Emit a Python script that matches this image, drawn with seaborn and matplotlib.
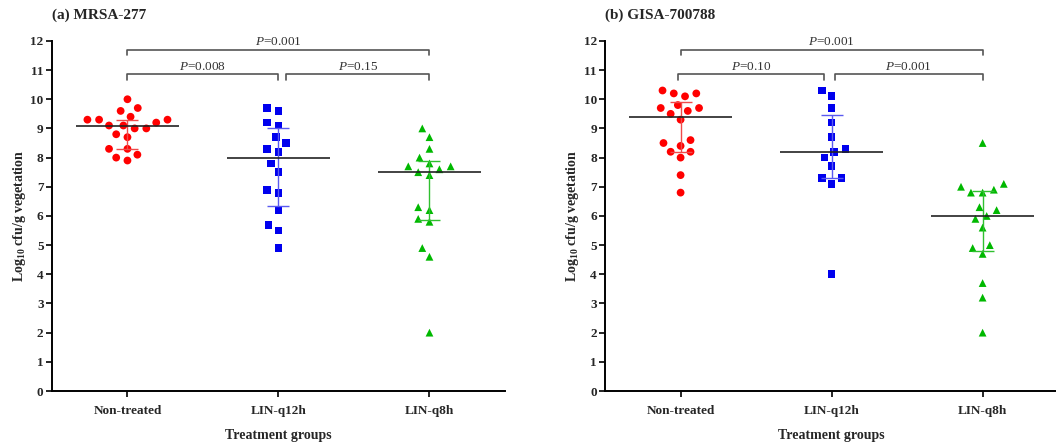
import numpy as np
import pandas as pd
import matplotlib
matplotlib.use("Agg")
import matplotlib.pyplot as plt
import seaborn as sns

# Treatment groups (x categories)
groups = ["Non-treated", "LIN-q12h", "LIN-q8h"]

# (a) MRSA-277 individual values, log10 cfu/g vegetation
mrsa_non = [9.3, 9.4, 9.1, 8.3, 7.9, 9.7, 9.3, 9.0, 8.7, 10.0,
            9.6, 9.1, 8.8, 8.3, 8.0, 9.3, 9.0, 8.1, 9.2]
mrsa_q12 = [9.7, 9.6, 9.2, 9.1, 8.7, 8.3, 8.5, 8.2, 7.8, 7.5,
            6.8, 6.9, 6.2, 5.7, 5.5, 4.9]
mrsa_q8 = [9.0, 8.7, 8.3, 7.7, 7.8, 7.5, 7.7, 7.4, 8.0, 7.6,
           6.3, 6.2, 5.9, 5.8, 4.9, 4.6, 2.0]
mrsa_center = [9.1, 8.0, 7.5]
mrsa_low = [8.3, 6.35, 5.85]
mrsa_high = [9.3, 9.0, 7.9]
mrsa_p = ["0.001", "0.008", "0.15"]

# (b) GISA-700788 individual values
gisa_non = [10.2, 10.3, 10.1, 10.2, 9.7, 9.6, 9.8, 9.7, 9.3, 9.5,
            8.5, 8.6, 8.2, 8.2, 8.4, 8.0, 7.4, 6.8]
gisa_q12 = [10.1, 10.3, 9.7, 9.2, 8.7, 8.2, 8.3, 8.0, 7.7, 7.3,
            7.3, 7.1, 4.0]
gisa_q8 = [8.5, 7.0, 7.1, 6.8, 6.8, 6.9, 6.2, 6.3, 5.9, 6.0,
           5.6, 4.9, 5.0, 4.7, 3.7, 3.2, 2.0]
gisa_center = [9.4, 8.2, 6.0]
gisa_low = [8.2, 7.3, 4.8]
gisa_high = [9.9, 9.45, 6.85]
gisa_p = ["0.001", "0.10", "0.001"]

point_colors = ["#ff0000", "#0000ee", "#00b800"]
bar_colors = ["#f04a4a", "#5a5af0", "#30c030"]
markers = ["o", "s", "^"]
SWARM_SIZE = 8.0   # spacing used for the swarm layout
MARK_SIZE = 5.6    # drawn marker size (points)

sns.set_theme(style="ticks")
plt.rcParams["font.family"] = ["Liberation Serif", "DejaVu Serif"]
plt.rcParams["mathtext.fontset"] = "custom"
plt.rcParams["mathtext.rm"] = "Liberation Serif:bold"
plt.rcParams["mathtext.bf"] = "Liberation Serif:bold"
plt.rcParams["mathtext.it"] = "Liberation Serif:italic"


def bracket(ax, x1, x2, y, label, dx1=0.0, dx2=0.0):
    """Significance bracket with downward end ticks and P label"""
    tick = 0.18
    a, b = x1 + dx1, x2 + dx2
    ax.plot([a, a, b, b], [y - tick, y, y, y - tick], color="#555555",
            lw=1.2, clip_on=False)
    ax.text((a + b) / 2, y + 0.06, r"$\it{P}$" + "=" + label, ha="center",
            va="bottom", fontsize=9.5, color="#333333", clip_on=False)


def panel(ax, title, values, center, low, high, pvals, dx):
    df = pd.concat([pd.DataFrame({"group": g, "value": v})
                    for g, v in zip(groups, values)], ignore_index=True)
    for i, g in enumerate(groups):
        sub = df[df["group"] == g]
        sns.swarmplot(data=sub, x="group", y="value", order=groups,
                      marker=markers[i], color=point_colors[i], size=SWARM_SIZE,
                      linewidth=0, ax=ax, zorder=3)
    xs = np.arange(len(groups))
    for i in xs:
        ax.errorbar(i, center[i], yerr=[[center[i] - low[i]], [high[i] - center[i]]],
                    fmt="none", ecolor=bar_colors[i], elinewidth=1.0,
                    capsize=8, capthick=1.0, zorder=4)
    ax.hlines(center, xs - 0.34, xs + 0.34, color="#222222", lw=1.2, zorder=5)

    bracket(ax, 0, 2, 11.7, pvals[0])
    bracket(ax, 0, 1, 10.85, pvals[1], dx1=dx[0], dx2=dx[1])
    bracket(ax, 1, 2, 10.85, pvals[2], dx1=dx[2])

    ax.set_xlim(-0.5, 2.5)
    ax.set_ylim(0, 12)
    ax.set_yticks(range(0, 13))
    ax.set_xlabel("Treatment groups", fontsize=10, fontweight="bold", labelpad=9)
    ax.set_ylabel(r"Log$_{10}$ cfu/g vegetation", fontsize=10, fontweight="bold",
                  labelpad=2)
    ax.tick_params(axis="both", direction="out", length=4, width=1.2,
                   color="black")
    ax.tick_params(axis="x", labelsize=9.5, pad=6)
    ax.tick_params(axis="y", labelsize=9.5, pad=2)
    for lab in ax.get_xticklabels() + ax.get_yticklabels():
        lab.set_fontweight("bold")
    for s in ["top", "right"]:
        ax.spines[s].set_visible(False)
    for s in ["left", "bottom"]:
        ax.spines[s].set_linewidth(1.4)
        ax.spines[s].set_color("black")
    ax.text(0.0, 1.074, title, transform=ax.transAxes, fontsize=11,
            fontweight="bold", ha="left", va="center")


fig = plt.figure(figsize=(10.56, 4.46), dpi=100)
ax_a = fig.add_axes([0.0492, 0.1233, 0.429, 0.785])
ax_b = fig.add_axes([0.573, 0.1233, 0.429, 0.785])

panel(ax_a, "(a) MRSA-277", [mrsa_non, mrsa_q12, mrsa_q8],
      mrsa_center, mrsa_low, mrsa_high, mrsa_p, dx=(0.0, 0.0, 0.05))
panel(ax_b, "(b) GISA-700788", [gisa_non, gisa_q12, gisa_q8],
      gisa_center, gisa_low, gisa_high, gisa_p, dx=(-0.02, -0.05, 0.02))

# lay out the swarms with wider spacing, then freeze them and shrink the markers
fig.canvas.draw()
for ax in (ax_a, ax_b):
    for coll in ax.collections:
        if "draw" in coll.__dict__:
            del coll.draw
            coll.set_sizes(np.full(len(coll.get_offsets()), MARK_SIZE ** 2))

fig.savefig("out.png", dpi=100)
